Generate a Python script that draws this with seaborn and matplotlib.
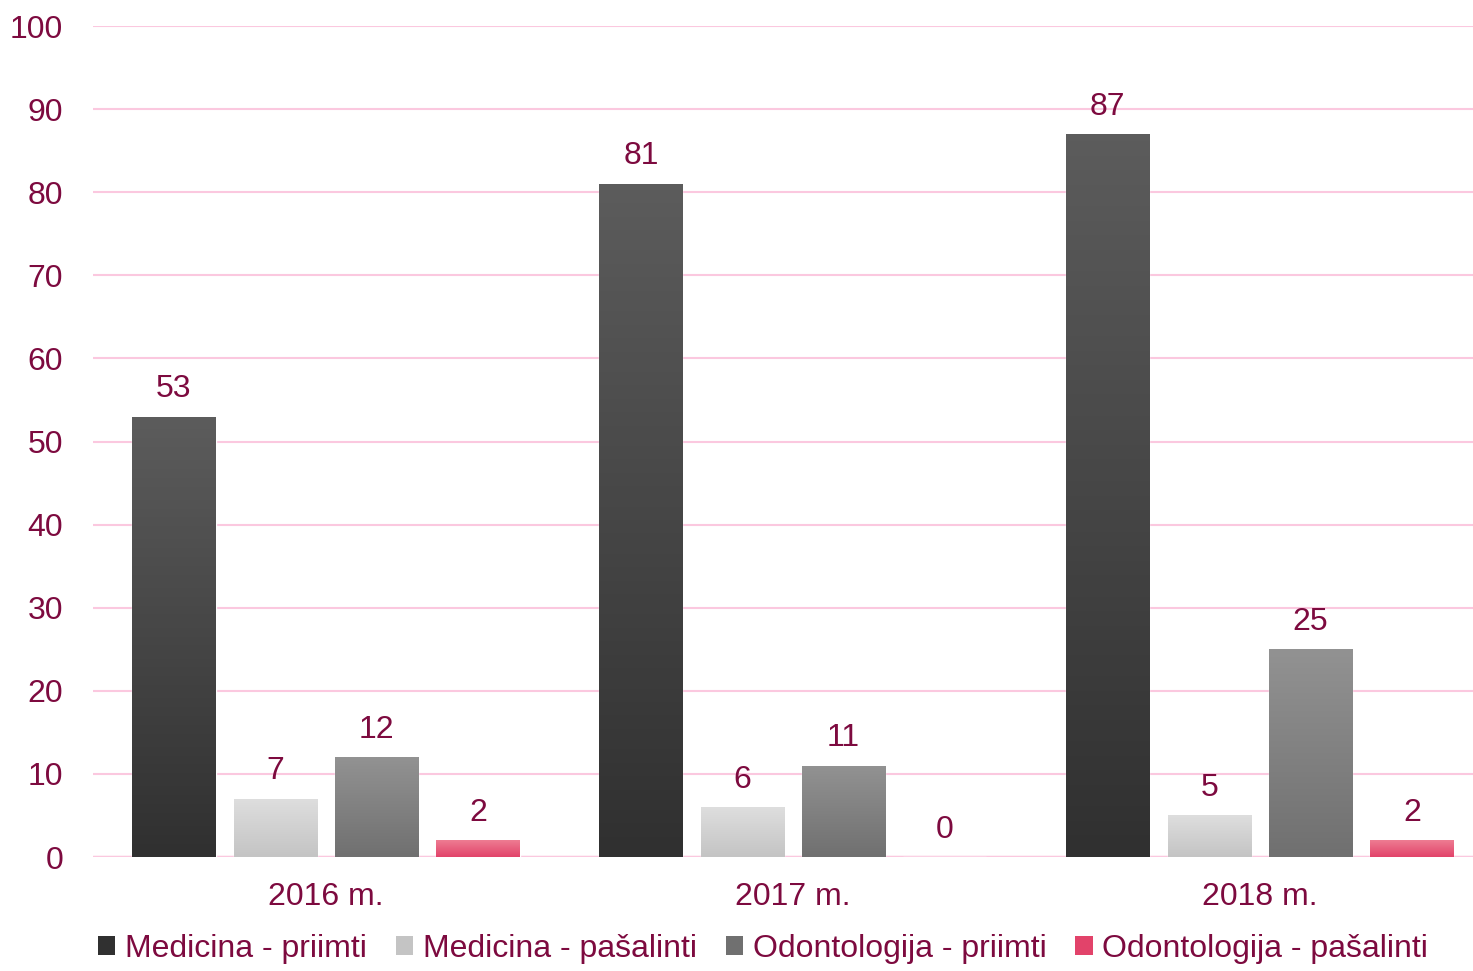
import numpy as np
import pandas as pd
import matplotlib
matplotlib.use("Agg")
import matplotlib.pyplot as plt
import seaborn as sns
from matplotlib.colors import LinearSegmentedColormap
from matplotlib.patches import Patch

years  = ["2016 m.", "2017 m.", "2018 m."]
series = ["Medicina - priimti", "Medicina - pašalinti",
          "Odontologija - priimti", "Odontologija - pašalinti"]
med_in   = [53, 81, 87]
med_out  = [7, 6, 5]
odo_in   = [12, 11, 25]
odo_out  = [2, 0, 2]

TEXT  = "#7d0a3f"
GRID  = "#fbc8df"
# (top, bottom) gradient colours of each series
grads = [("#5c5c5c", "#303030"), ("#dedede", "#c4c4c4"),
         ("#929292", "#707070"), ("#ee7c92", "#e2436a")]

df = pd.DataFrame({
    "year":   np.repeat(years, 4),
    "series": series * 3,
    "value":  [v for trio in zip(med_in, med_out, odo_in, odo_out) for v in trio],
})

sns.set_style("white")
plt.rcParams["font.family"] = ["Liberation Sans", "DejaVu Sans"]
FS = 23

fig = plt.figure(figsize=(14.73, 9.71), dpi=100)
ax = fig.add_axes([0.0628, 0.1174, 0.951, 0.8558])

palette = {s: g[1] for s, g in zip(series, grads)}
sns.barplot(data=df, x="year", y="value", hue="series", hue_order=series,
            palette=palette, width=0.868, gap=0.18, ax=ax, legend=False,
            saturation=1)

ax.set_yticks(range(0, 101, 10))
ax.yaxis.grid(True, color=GRID, lw=1.5)
ax.set_axisbelow(True)
for s in ax.spines.values():
    s.set_visible(False)
ax.axhline(0, color=GRID, lw=2.5, zorder=0.5)
ax.tick_params(axis="both", length=0, labelsize=FS, labelcolor=TEXT)
ax.tick_params(axis="y", pad=21)
ax.tick_params(axis="x", pad=18)
ax.set_xlabel("")
ax.set_ylabel("")

# gradient fill for each bar
for i, cont in enumerate(ax.containers):
    top, bot = grads[i]
    cmap = LinearSegmentedColormap.from_list("g%d" % i, [bot, top])
    for bar in cont:
        x0, y0 = bar.get_x(), bar.get_y()
        w, h = bar.get_width(), bar.get_height()
        if h <= 0:
            continue
        im = ax.imshow(np.linspace(0, 1, 100).reshape(-1, 1), cmap=cmap,
                       origin="lower", extent=[x0, x0 + w, y0, y0 + h],
                       aspect="auto", zorder=2)
        im.set_clip_path(bar)
        bar.set_facecolor("none")
    ax.bar_label(cont, padding=9, fontsize=FS, color=TEXT)

ax.set_xlim(-0.5, 2.5)
ax.set_ylim(0, 100)

handles = [Patch(facecolor=g[1], edgecolor="none") for g in grads]
fig.legend(handles, series, loc="lower center", ncol=4, frameon=False,
           fontsize=FS, labelcolor=TEXT, handlelength=0.55, handleheight=0.55,
           handletextpad=0.3, columnspacing=0.9, bbox_to_anchor=(0.518, -0.022))

fig.savefig("out.png", dpi=100)
